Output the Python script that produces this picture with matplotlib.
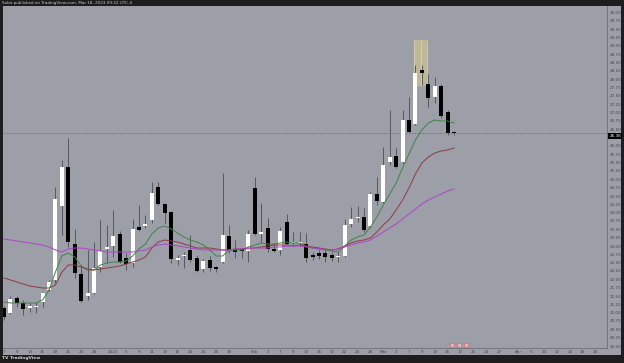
"""
Daily candles with three moving averages, TradingView style snapshot.
"""
# Library import
import numpy as np
import matplotlib.pyplot as plt
from matplotlib.patches import Rectangle
from matplotlib.transforms import blended_transform_factory

# Candle data (daily, oldest first)
opens = [21.14, 20.99, 21.44, 21.29, 21.14, 21.16, 21.32, 21.68, 21.98, 24.20,
         25.37, 23.06, 22.16, 21.50, 21.59, 22.37, 22.91, 23.00, 23.36, 22.64,
         22.49, 23.57, 23.60, 23.78, 24.77, 24.26, 24.02, 22.58, 22.69, 22.88,
         22.64, 22.31, 22.58, 22.37, 22.52, 23.30, 22.91, 22.91, 22.85, 24.74,
         23.36, 23.54, 22.91, 22.88, 23.72, 23.09, 23.09, 23.06, 22.73, 22.79,
         22.79, 22.73, 22.66, 22.70, 23.66, 23.83, 23.87, 23.60, 24.56, 24.32,
         25.52, 25.70, 25.52, 26.78, 26.66, 28.28, 27.86, 27.47, 27.80, 27.02,
         26.42]
highs = [21.20, 21.50, 21.50, 21.38, 21.29, 21.32, 21.62, 21.98, 24.77, 25.58,
         26.24, 23.51, 22.43, 22.88, 23.12, 23.78, 23.63, 24.08, 23.45, 22.79,
         23.81, 24.23, 23.93, 24.92, 24.92, 24.29, 24.05, 22.73, 22.82, 23.33,
         22.73, 22.61, 22.70, 22.40, 25.19, 23.63, 23.18, 22.94, 23.48, 25.07,
         24.29, 23.84, 23.09, 23.57, 23.96, 23.42, 23.42, 23.39, 22.82, 22.88,
         22.91, 22.82, 22.82, 23.81, 24.17, 24.20, 24.14, 24.62, 25.07, 25.97,
         27.08, 25.94, 27.08, 27.47, 28.43, 28.43, 28.16, 28.07, 27.86, 27.08,
         26.45]
lows = [20.78, 20.96, 21.17, 20.93, 21.02, 20.99, 21.17, 21.65, 21.89, 23.33,
        22.97, 22.04, 21.32, 21.38, 21.56, 22.22, 22.49, 22.67, 22.49, 22.28,
        22.37, 23.45, 23.54, 23.69, 24.23, 23.69, 22.49, 22.43, 22.34, 22.52,
        22.22, 22.22, 22.25, 22.22, 22.49, 22.79, 22.64, 22.64, 22.52, 23.33,
        23.12, 22.82, 22.82, 22.73, 23.03, 23.03, 23.00, 22.52, 22.58, 22.61,
        22.52, 22.55, 22.52, 22.67, 23.57, 23.72, 23.42, 23.54, 24.23, 24.29,
        25.43, 25.34, 25.49, 26.39, 26.63, 27.83, 27.17, 27.29, 26.84, 26.33,
        26.33]
closes = [20.87, 21.41, 21.29, 21.11, 21.20, 21.18, 21.59, 21.92, 24.41, 25.37,
          23.12, 22.19, 21.35, 21.59, 22.34, 22.85, 22.97, 23.30, 22.52, 22.46,
          23.51, 23.48, 23.66, 24.59, 24.26, 23.99, 22.61, 22.64, 22.73, 22.58,
          22.25, 22.55, 22.34, 22.31, 23.33, 22.88, 22.82, 22.85, 23.36, 23.36,
          23.42, 22.91, 22.85, 23.45, 23.06, 23.12, 23.12, 22.64, 22.67, 22.70,
          22.67, 22.64, 22.69, 23.63, 23.81, 23.87, 23.48, 24.56, 24.35, 25.43,
          25.67, 25.37, 26.78, 26.42, 28.19, 28.19, 27.44, 27.80, 26.90, 26.39,
          26.38]

# Moving averages (fast, mid, slow)
ma_fast = [21.32, 21.29, 21.29, 21.29, 21.29, 21.29, 21.38, 21.68, 22.22, 22.70,
           22.79, 22.67, 22.40, 22.28, 22.28, 22.43, 22.49, 22.52, 22.52, 22.55,
           22.70, 22.91, 23.06, 23.36, 23.54, 23.60, 23.51, 23.39, 23.27, 23.18,
           23.12, 23.03, 22.88, 22.70, 22.70, 22.88, 22.88, 22.88, 22.97, 23.03,
           23.09, 23.06, 23.06, 23.09, 23.12, 23.09, 23.09, 23.00, 22.94, 22.91,
           22.88, 22.85, 22.82, 23.00, 23.18, 23.27, 23.33, 23.57, 23.87, 24.23,
           24.56, 24.89, 25.34, 25.76, 26.18, 26.48, 26.69, 26.78, 26.75, 26.75,
           26.69]
ma_mid = [22.04, 21.98, 21.92, 21.86, 21.80, 21.77, 21.74, 21.74, 21.83, 22.22,
          22.43, 22.43, 22.37, 22.31, 22.28, 22.31, 22.34, 22.37, 22.40, 22.46,
          22.52, 22.58, 22.67, 22.94, 23.12, 23.18, 23.15, 23.12, 23.06, 23.00,
          22.94, 22.94, 22.94, 22.91, 22.88, 22.88, 22.91, 22.91, 22.94, 22.94,
          22.97, 23.00, 23.03, 23.03, 23.03, 23.00, 23.03, 23.00, 22.97, 22.94,
          22.91, 22.88, 22.91, 23.00, 23.09, 23.15, 23.18, 23.24, 23.42, 23.63,
          23.81, 24.08, 24.38, 24.74, 25.16, 25.49, 25.67, 25.79, 25.85, 25.88,
          25.94]
ma_slow = [23.21, 23.18, 23.15, 23.12, 23.09, 23.06, 23.03, 22.97, 22.88, 22.82,
           22.91, 22.94, 22.94, 22.91, 22.88, 22.85, 22.82, 22.82, 22.82, 22.82,
           22.82, 22.85, 22.88, 22.97, 23.03, 23.06, 23.03, 23.00, 22.97, 22.94,
           22.91, 22.88, 22.88, 22.88, 22.88, 22.88, 22.91, 22.91, 22.91, 22.94,
           22.94, 22.94, 22.97, 22.97, 23.00, 23.00, 23.00, 22.97, 22.94, 22.91,
           22.91, 22.88, 22.91, 22.97, 23.03, 23.09, 23.12, 23.18, 23.30, 23.42,
           23.54, 23.66, 23.81, 23.96, 24.11, 24.26, 24.38, 24.47, 24.56, 24.65,
           24.71]

# Time axis labels (bar index, text)
date_pos = [0, 2, 4, 6, 8, 10, 12, 14, 17, 19, 21, 23, 25, 27, 29, 31, 33, 35,
            39, 41, 43, 45, 47, 49, 51, 53, 55, 57, 59, 61, 63, 65, 67, 69, 71,
            73, 75, 77, 80, 82, 84, 86, 88, 90, 92]
date_labels = ["7", "9", "13", "15", "19", "21", "23", "28", "2023", "5", "9",
               "11", "13", "18", "20", "24", "26", "30", "Feb", "3", "7", "9",
               "13", "15", "17", "22", "24", "28", "Mar", "3", "7", "9", "13",
               "15", "17", "21", "23", "27", "Apr", "5", "10", "12", "14", "18",
               "20"]

# Price axis labels
price_ticks = np.arange(20.0, 30.01, 0.25)

# Highlighted zone (bar index range, price range)
zone_bars = [63.8, 65.8]
zone_prices = [27.80, 29.18]

# Event flags under the last bars
flag_bars = [69.7, 70.8, 71.8]

# Colours
bg_dark = "#1d1d1f"
panel = "#9c9fa7"
txt = "#43464b"

fig = plt.figure(figsize=(6.24, 3.63), dpi=100, facecolor=bg_dark)

# Gray frame behind price and time scales
back = fig.add_axes([3 / 624, 1 - 355 / 363, 618 / 624, 349 / 363])
back.set_facecolor(panel)
back.set_xticks([])
back.set_yticks([])
for s in back.spines.values():
    s.set_visible(False)

# Main chart
ax = fig.add_axes([3 / 624, 1 - 348 / 363, 604 / 624, 342 / 363])
ax.set_facecolor(panel)
ax.set_xlim(-0.16, 93.8)
ax.set_ylim(19.94, 30.20)

idx = np.arange(len(closes))
o = np.array(opens)
c = np.array(closes)
up = c >= o

# Wicks
ax.vlines(idx, lows, highs, color="#55585e", lw=0.7, zorder=2)

# Bodies
body_low = np.minimum(o, c)
body_h = np.maximum(np.abs(c - o), 0.04)
ax.bar(idx[up], body_h[up], bottom=body_low[up], width=0.62,
       color="white", zorder=3)
ax.bar(idx[~up], body_h[~up], bottom=body_low[~up], width=0.62,
       color="black", zorder=3)

# Moving averages
ax.plot(idx, ma_fast, color="#3f8447", lw=0.7, zorder=4)
ax.plot(idx, ma_mid, color="#8e3a44", lw=0.7, zorder=4)
ax.plot(idx, ma_slow, color="#b044c6", lw=0.7, zorder=4)

# Highlight zone
ax.add_patch(Rectangle((zone_bars[0], zone_prices[0]),
                       zone_bars[1] - zone_bars[0],
                       zone_prices[1] - zone_prices[0],
                       facecolor="#c6bd93", edgecolor="none", alpha=0.85,
                       zorder=1))
ax.vlines([zone_bars[0], sum(zone_bars) / 2, zone_bars[1]],
          zone_prices[0], zone_prices[1], color="#dcd5b4", lw=0.5, zorder=1)

# Last price line
last = closes[-1]
tag_y = last - 0.09
ax.axhline(last, color="#5f6268", lw=0.5, ls=(0, (2, 2)), zorder=1)

# Event flags
ax.scatter(flag_bars, [20.03] * 3, marker="s", s=7, facecolor="#eab0b8",
           edgecolor="#cf5f6e", linewidth=0.4, zorder=5, clip_on=False)

# Price scale on the right - the tag hides the labels it sits on
ax.yaxis.tick_right()
ax.set_yticks(price_ticks)
ax.set_yticklabels(["" if abs(p - tag_y) < 0.2 else f"{p:.2f}"
                    for p in price_ticks])
ax.tick_params(axis="y", length=0, pad=2.2, labelsize=3, labelcolor=txt)

# Time scale
ax.set_xticks(date_pos)
ax.set_xticklabels(date_labels)
ax.tick_params(axis="x", length=0, pad=1.6, labelsize=3, labelcolor=txt)

for side in ["top", "left"]:
    ax.spines[side].set_visible(False)
for side in ["bottom", "right"]:
    ax.spines[side].set_color("#6c6f75")
    ax.spines[side].set_linewidth(0.6)

# Last price tag
tr = blended_transform_factory(ax.transAxes, ax.transData)
ax.text(1.004, tag_y, f"{last:.2f}", transform=tr, fontsize=3,
        color="white", va="center", ha="left", clip_on=False, zorder=6,
        bbox=dict(facecolor="black", edgecolor="none", pad=0.8))

# Header and footer text
fig.text(2 / 624, 1 - 3 / 363, "Solat published on TradingView.com, Mar 18, 2023 09:22 UTC-4",
         fontsize=3, color="#c9c9c9", va="center", ha="left")
fig.text(2 / 624, 1 - 358.5 / 363, "TV TradingView", fontsize=3.2,
         color="#d4d4d4", va="center", ha="left", weight="bold")

fig.savefig("out.png", dpi=100, facecolor=bg_dark)
